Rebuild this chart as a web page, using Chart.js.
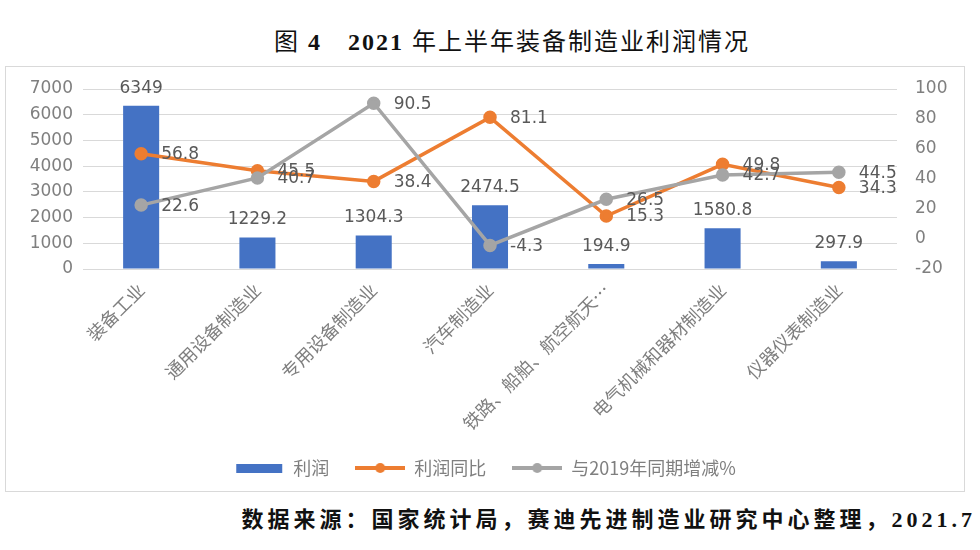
<!DOCTYPE html>
<html>
<head>
<meta charset="utf-8">
<script src="https://cdn.jsdelivr.net/npm/chart.js@4/dist/chart.umd.min.js"></script>
<style>
  body { margin: 0; width: 980px; height: 550px; background: #fff; position: relative; overflow: hidden; }
  #title {
    position: absolute; left: 0; width: 1024px; top: 28px; text-align: center;
    font-family: "Liberation Serif", "Noto Sans CJK SC", serif; font-size: 24px; line-height: 28px;
    letter-spacing: 2px; color: #111;
  }
  #title b { font-weight: bold; }
  #box {
    position: absolute; left: 5px; top: 66px; width: 958px; height: 424px;
    border: 1px solid #d9d9d9;
  }
  #source {
    position: absolute; right: 4px; top: 506px;
    font-family: "Liberation Serif", "Noto Sans CJK SC", serif; font-size: 22px; line-height: 28px;
    font-weight: bold; letter-spacing: 4px; color: #111;
  }
</style>
</head>
<body>
<div id="title">图 <b>4</b>　<b>2021</b> 年上半年装备制造业利润情况</div>
<div id="box"><canvas id="profitChart" width="958" height="424"></canvas></div>
<div id="source">数据来源：国家统计局，赛迪先进制造业研究中心整理，2021.7</div>
<script>
  const categories = [
    "装备工业",
    "通用设备制造业",
    "专用设备制造业",
    "汽车制造业",
    "铁路、船舶、航空航天…",
    "电气机械和器材制造业",
    "仪器仪表制造业",
  ];
  const profit = [6349, 1229.2, 1304.3, 2474.5, 194.9, 1580.8, 297.9]; // 利润
  const profitYoY = [56.8, 45.5, 38.4, 81.1, 15.3, 49.8, 34.3]; // 利润同比
  const vs2019 = [22.6, 40.7, 90.5, -4.3, 26.5, 42.7, 44.5]; // 与2019年同期增减%

  const BLUE = "#4472C4";
  const ORANGE = "#ED7D31";
  const GREY = "#A5A5A5";
  const FONT = '"DejaVu Sans", "Noto Sans CJK SC", sans-serif';
  const CJK_FONT = '"Noto Sans CJK SC", "DejaVu Sans", sans-serif';

  // little canvases used as legend icons
  function legendIcon(color, withDot) {
    const c = document.createElement("canvas");
    c.width = 50;
    c.height = 12;
    const g = c.getContext("2d");
    if (withDot) {
      g.strokeStyle = color;
      g.lineWidth = 4;
      g.beginPath();
      g.moveTo(0, 6);
      g.lineTo(50, 6);
      g.stroke();
      g.fillStyle = color;
      g.beginPath();
      g.arc(25, 6, 5, 0, Math.PI * 2);
      g.fill();
    } else {
      g.fillStyle = color;
      g.fillRect(2, 2, 46, 9);
    }
    return c;
  }
  const icons = [legendIcon(BLUE, false), legendIcon(ORANGE, true), legendIcon(GREY, true)];

  // value labels next to bars and points
  const valueLabels = {
    id: "valueLabels",
    afterDatasetsDraw(chart) {
      const ctx = chart.ctx;
      ctx.save();
      ctx.font = "17px " + FONT;
      ctx.fillStyle = "#595959";
      chart.data.datasets.forEach((ds, i) => {
        const meta = chart.getDatasetMeta(i);
        meta.data.forEach((el, j) => {
          const v = ds.data[j];
          if (ds.type === "bar") {
            ctx.textAlign = "center";
            ctx.textBaseline = "bottom";
            ctx.fillText(String(v), el.x, el.y - 9);
          } else {
            ctx.textAlign = "left";
            ctx.textBaseline = "middle";
            ctx.fillText(String(v), el.x + 20, el.y + 1);
          }
        });
      });
      ctx.restore();
    },
  };

  new Chart(document.getElementById("profitChart"), {
    data: {
      labels: categories,
      datasets: [
        {
          type: "bar",
          label: "利润",
          data: profit,
          backgroundColor: BLUE,
          yAxisID: "y",
          barPercentage: 0.31,
          categoryPercentage: 1,
          order: 3,
        },
        {
          type: "line",
          label: "利润同比",
          data: profitYoY,
          borderColor: ORANGE,
          backgroundColor: ORANGE,
          borderWidth: 3.5,
          pointRadius: 5,
          pointBackgroundColor: ORANGE,
          pointBorderColor: ORANGE,
          tension: 0,
          yAxisID: "y1",
          order: 2,
        },
        {
          type: "line",
          label: "与2019年同期增减%",
          data: vs2019,
          borderColor: GREY,
          backgroundColor: GREY,
          borderWidth: 3.5,
          pointRadius: 5,
          pointBackgroundColor: GREY,
          pointBorderColor: GREY,
          tension: 0,
          yAxisID: "y1",
          order: 1,
        },
      ],
    },
    options: {
      responsive: false,
      animation: false,
      layout: { padding: { top: 22, left: 0, right: 0, bottom: 4 } },
      plugins: {
        title: { display: false },
        tooltip: { enabled: false },
        legend: {
          position: "bottom",
          labels: {
            usePointStyle: true,
            pointStyleWidth: 50,
            padding: 26,
            color: "#7f7f7f",
            font: { size: 18, family: CJK_FONT },
            sort: (a, b) => a.datasetIndex - b.datasetIndex,
            generateLabels: function (chart) {
              const items = Chart.defaults.plugins.legend.labels.generateLabels(chart);
              items.forEach((item) => {
                item.pointStyle = icons[item.datasetIndex];
              });
              return items;
            },
          },
        },
      },
      scales: {
        x: {
          grid: { display: false },
          border: { display: false },
          ticks: {
            autoSkip: false,
            maxRotation: 45,
            minRotation: 45,
            padding: 2,
            color: "#7f7f7f",
            font: { size: 18, family: CJK_FONT },
          },
          afterFit: function (scale) {
            scale.height = 164;
          },
        },
        y: {
          position: "left",
          min: 0,
          max: 7000,
          grid: { color: "#d9d9d9", drawTicks: false },
          border: { display: false },
          ticks: {
            stepSize: 1000,
            padding: 10,
            color: "#7f7f7f",
            font: { size: 17, family: FONT },
            callback: (value) => String(value),
          },
          afterFit: function (scale) {
            scale.width = 77;
            scale.paddingTop = 10;
            scale.paddingBottom = 10;
          },
        },
        y1: {
          position: "right",
          min: -20,
          max: 100,
          grid: { drawOnChartArea: false, drawTicks: false },
          border: { display: false },
          ticks: {
            stepSize: 20,
            padding: 18,
            color: "#7f7f7f",
            font: { size: 17, family: FONT },
          },
          afterFit: function (scale) {
            scale.width = 67;
            scale.paddingTop = 10;
            scale.paddingBottom = 10;
          },
        },
      },
    },
    plugins: [valueLabels],
  });
</script>
</body>
</html>
